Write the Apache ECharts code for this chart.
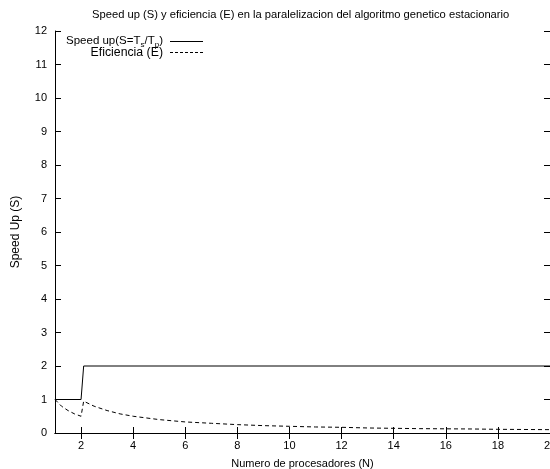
<!DOCTYPE html>
<html lang="es">
<head>
<meta charset="UTF-8">
<title>Speed up y eficiencia</title>
<style>
  html, body { margin: 0; padding: 0; background: #fff; }
  #chart { width: 550px; height: 469px; }
</style>
</head>
<body>
<div id="chart"></div>
<script src="https://cdn.jsdelivr.net/npm/echarts@6/dist/echarts.min.js"></script>
<script>
// valores
const speedupX = [1, 2, 2.1, 20];
const speedupY = [1, 1, 2, 2];
const efX = [1, 1.25, 1.5, 1.75, 2, 2.1, 2.5, 3, 3.5, 4, 5, 6, 7, 8, 9, 10, 11, 12, 13, 14, 15, 16, 17, 18, 19, 20];
const efY = [1, 0.8, 0.67, 0.57, 0.5, 0.95, 0.8, 0.67, 0.57, 0.5, 0.4, 0.33, 0.29, 0.25, 0.22, 0.2, 0.18, 0.17, 0.15, 0.14, 0.13, 0.125, 0.12, 0.11, 0.105, 0.1];
const xTicks = [2, 4, 6, 8, 10, 12, 14, 16, 18, 20];

const font = 'Liberation Sans, Arial, sans-serif';
const chart = echarts.init(document.getElementById('chart'));

const tickStyle = { inside: true, length: 6, lineStyle: { color: '#000', width: 1 } };
const axisLine = { show: true, lineStyle: { color: '#000', width: 1 } };

chart.setOption({
  animation: false,
  backgroundColor: '#fff',
  textStyle: { fontFamily: font },
  title: {
    text: 'Speed up (S) y eficiencia (E) en la paralelizacion del algoritmo genetico estacionario',
    left: 87,
    top: 4,
    textStyle: { fontSize: 11.2, fontWeight: 'normal', color: '#000', fontFamily: font }
  },
  grid: { left: 55, right: 0, top: 31, bottom: 36, outerBoundsMode: 'none', containLabel: false },
  xAxis: [{
    type: 'value', min: 1, max: 20,
    name: 'Numero de procesadores (N)', nameLocation: 'middle', nameGap: 25,
    nameTextStyle: { fontSize: 11, color: '#000', fontFamily: font },
    axisLine: axisLine,
    axisTick: Object.assign({ customValues: xTicks }, tickStyle),
    axisLabel: { customValues: xTicks, fontSize: 11, color: '#000', margin: 7, fontFamily: font },
    splitLine: { show: false }
  }, {
    type: 'value', min: 1, max: 20, position: 'top',
    axisLine: axisLine,
    axisTick: Object.assign({ customValues: xTicks }, tickStyle),
    axisLabel: { show: false },
    splitLine: { show: false }
  }],
  yAxis: [{
    type: 'value', min: 0, max: 12, interval: 1,
    name: 'Speed Up (S)', nameLocation: 'middle', nameGap: 33,
    nameTextStyle: { fontSize: 12, color: '#000', fontFamily: font },
    axisLine: axisLine,
    axisTick: tickStyle,
    axisLabel: { fontSize: 11, color: '#000', margin: 8, fontFamily: font },
    splitLine: { show: false }
  }, {
    type: 'value', min: 0, max: 12, interval: 1, position: 'right',
    axisLine: axisLine,
    axisTick: tickStyle,
    axisLabel: { show: false },
    splitLine: { show: false }
  }],
  series: [{
    name: 'Speed up',
    type: 'line',
    data: speedupX.map((x, i) => [x, speedupY[i]]),
    showSymbol: false,
    lineStyle: { color: '#000', width: 1 }
  }, {
    name: 'Eficiencia',
    type: 'line',
    data: efX.map((x, i) => [x, efY[i]]),
    showSymbol: false,
    lineStyle: { color: '#000', width: 1, type: [4, 3] }
  }],
  graphic: [{
    type: 'text', x: 163, y: 41,
    style: {
      text: '{a|Speed up(S=T}{b|s}{a|/T}{b|p}{a|)}',
      align: 'right', verticalAlign: 'middle',
      rich: {
        a: { fontSize: 11.5, lineHeight: 15, verticalAlign: 'middle', fill: '#000', fontFamily: font },
        b: { fontSize: 8, lineHeight: 15, verticalAlign: 'bottom', fill: '#000', fontFamily: font }
      }
    }
  }, {
    type: 'text', x: 163, y: 53,
    style: {
      text: 'Eficiencia (E)', align: 'right', verticalAlign: 'middle',
      fontSize: 12.3, fill: '#000', fontFamily: font
    }
  }, {
    type: 'line', shape: { x1: 170, y1: 41.5, x2: 203, y2: 41.5 },
    style: { stroke: '#000', lineWidth: 1 }
  }, {
    type: 'line', shape: { x1: 170, y1: 52.5, x2: 203, y2: 52.5 },
    style: { stroke: '#000', lineWidth: 1, lineDash: [3, 2] }
  }]
});
</script>
</body>
</html>
